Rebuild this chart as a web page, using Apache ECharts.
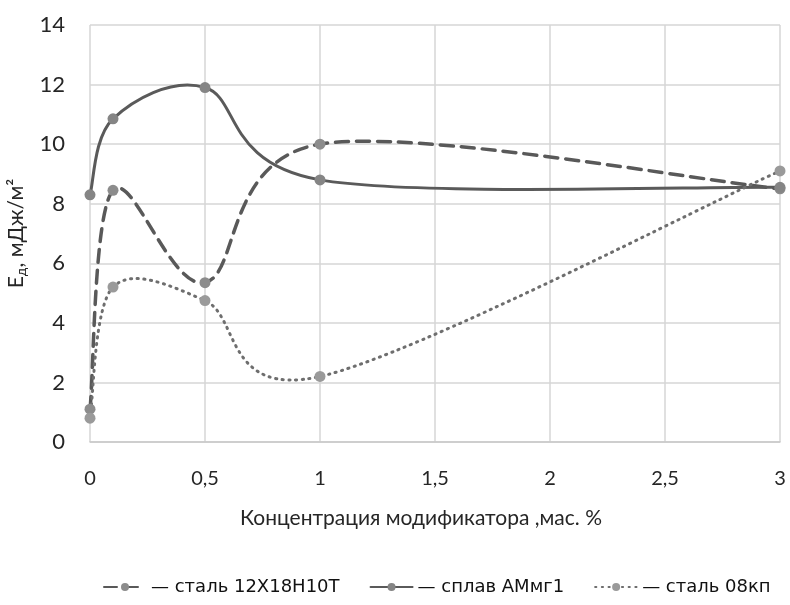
<!DOCTYPE html>
<html>
<head>
<meta charset="utf-8">
<script src="https://cdn.jsdelivr.net/npm/echarts@6/dist/echarts.min.js"></script>
<style>
  html, body { margin: 0; padding: 0; background: #fff; }
  #chart { width: 790px; height: 605px; }
</style>
</head>
<body>
<div id="chart"></div>
<script>
// концентрация модификатора, мас. %
var conc = [0, 0.1, 0.5, 1, 3]
// Ед, мДж/м2
var steel12X18 = [1.1, 8.45, 5.35, 10.0, 8.5]
var alloyAMg = [8.3, 10.85, 11.9, 8.8, 8.55]
var steel08 = [0.8, 5.2, 4.75, 2.2, 9.1]

var names = ['сталь 12Х18Н10Т', 'сплав АМмг1', 'сталь 08кп']

function pairs(ys) {
  return conc.map(function (x, i) { return [x, ys[i]] })
}

// curve through the points like excel's smoothed line (catmull-rom, in pixels)
function smoothCurve(ys, stroke, width, dash) {
  return function (params, api) {
    if (params.dataIndex !== 0) return null
    var p = conc.map(function (x, i) { return api.coord([x, ys[i]]) })
    var d = 'M' + p[0][0] + ' ' + p[0][1]
    for (var i = 0; i < p.length - 1; i++) {
      var a = p[i - 1] || p[i]
      var b = p[i]
      var c = p[i + 1]
      var e = p[i + 2] || p[i + 1]
      var c1x = b[0] + (c[0] - a[0]) / 6
      var c1y = b[1] + (c[1] - a[1]) / 6
      var c2x = c[0] - (e[0] - b[0]) / 6
      var c2y = c[1] - (e[1] - b[1]) / 6
      d += ' C' + c1x + ' ' + c1y + ' ' + c2x + ' ' + c2y + ' ' + c[0] + ' ' + c[1]
    }
    return {
      type: 'path',
      shape: { pathData: d },
      style: { fill: 'none', stroke: stroke, lineWidth: width, lineDash: dash, lineCap: 'round' }
    }
  }
}

var chart = echarts.init(document.getElementById('chart'))

var tickFont = 'Lato'
var dark = '#262626'
var gridColor = '#d6d6d6'

var looks = [
  { color: '#595959', width: 3.5, dash: [13, 8], marker: '#8c8c8c', ys: steel12X18 },
  { color: '#5a5a5a', width: 3, dash: null, marker: '#858585', ys: alloyAMg },
  { color: '#6e6e6e', width: 3, dash: [1.2, 5.5], marker: '#9a9a9a', ys: steel08 }
]

var series = []
looks.forEach(function (s, i) {
  series.push({
    type: 'custom',
    data: pairs(s.ys),
    encode: { x: 0, y: 1 },
    renderItem: smoothCurve(s.ys, s.color, s.width, s.dash),
    silent: true,
    z: 2
  })
  series.push({
    name: names[i],
    type: 'line',
    data: pairs(s.ys),
    symbol: 'circle',
    symbolSize: 11,
    itemStyle: { color: s.marker },
    lineStyle: { color: s.color, width: s.width, type: s.dash || 'solid', cap: 'round', opacity: 0 },
    z: 3
  })
})

chart.setOption({
  animation: false,
  backgroundColor: '#fff',
  grid: {
    left: 90,
    right: 10,
    top: 25,
    bottom: 163,
    outerBoundsMode: 'none'
  },
  xAxis: {
    type: 'value',
    min: 0,
    max: 3,
    interval: 0.5,
    name: 'Концентрация модификатора ,мас. %',
    nameLocation: 'middle',
    nameGap: 66,
    nameTextStyle: { fontFamily: tickFont, fontSize: 21, color: dark, padding: [0, 28, 0, 0] },
    axisLine: { show: true, lineStyle: { color: '#c8c8c8', width: 1.5 } },
    axisTick: { show: false },
    axisLabel: {
      margin: 27,
      fontFamily: tickFont,
      fontSize: 20,
      color: dark,
      formatter: function (v) { return String(v).replace('.', ',') }
    },
    splitLine: { show: true, lineStyle: { color: gridColor, width: 1.5 } }
  },
  yAxis: {
    type: 'value',
    min: 0,
    max: 14,
    interval: 2,
    name: 'E{sub|д}, мДж/м²',
    nameLocation: 'middle',
    nameGap: 60,
    nameRotate: 90,
    nameTextStyle: {
      fontFamily: tickFont, fontSize: 21, color: dark,
      rich: {
        sub: { fontFamily: tickFont, fontSize: 14, color: dark, verticalAlign: 'bottom', padding: [10, 0, 0, 0] }
      }
    },
    axisLine: { show: false },
    axisTick: { show: false },
    axisLabel: {
      margin: 25,
      fontFamily: tickFont,
      fontSize: 22,
      color: dark
    },
    splitLine: { show: true, lineStyle: { color: gridColor, width: 1.5 } }
  },
  legend: {
    bottom: 4,
    left: 98,
    itemGap: 30,
    itemWidth: 42,
    itemHeight: 10,
    data: names.map(function (n) {
      return { name: n, lineStyle: { opacity: 1 } }
    }),
    formatter: function (n) { return '— ' + n },
    textStyle: { fontFamily: 'DejaVu Sans', fontSize: 18, color: '#111' }
  },
  series: series
})
</script>
</body>
</html>
